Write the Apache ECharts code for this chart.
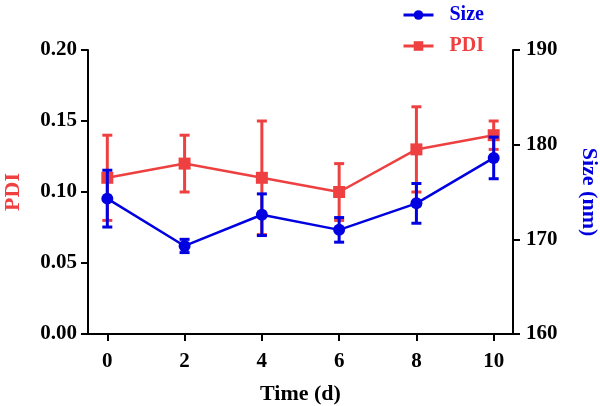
<!DOCTYPE html>
<html>
<head>
<meta charset="utf-8">
<script src="https://cdn.jsdelivr.net/npm/echarts@6/dist/echarts.min.js"></script>
<style>html,body{margin:0;padding:0;background:#fff}#c{width:600px;height:406px}</style>
</head>
<body>
<div id="c"></div>
<script>
const days = [0, 2, 4, 6, 8, 10];
const dayTicks = [0, 2, 4, 6, 8, 10];
const pdi = [0.11, 0.12, 0.11, 0.10, 0.13, 0.14];
const pdiErr = [0.03, 0.02, 0.04, 0.02, 0.03, 0.01];
const size = [174.3, 169.3, 172.6, 171.0, 173.8, 178.6];
const sizeErr = [3.0, 0.7, 2.2, 1.3, 2.1, 2.2];

const RED = '#EE4040';
const BLUE = '#0000E0';
const FONT = 'Liberation Serif';

function errData(vals, errs) {
  return days.map((d, i) => [d, vals[i] - errs[i], vals[i] + errs[i]]);
}
function errRender(color) {
  return function (params, api) {
    const x = api.value(0);
    const lo = api.coord([x, api.value(1)]);
    const hi = api.coord([x, api.value(2)]);
    const hw = 5;
    const st = { stroke: color, lineWidth: 3 };
    return {
      type: 'group',
      children: [
        { type: 'line', shape: { x1: lo[0], y1: lo[1], x2: hi[0], y2: hi[1] }, style: st },
        { type: 'line', shape: { x1: lo[0] - hw, y1: lo[1], x2: lo[0] + hw, y2: lo[1] }, style: st },
        { type: 'line', shape: { x1: hi[0] - hw, y1: hi[1], x2: hi[0] + hw, y2: hi[1] }, style: st }
      ]
    };
  };
}

const axisLineStyle = { color: '#000', width: 2 };
const labelStyle = { color: '#000', fontFamily: FONT, fontWeight: 'bold', fontSize: 21 };

const chart = echarts.init(document.getElementById('c'), null, { renderer: 'canvas' });
chart.setOption({
  animation: false,
  backgroundColor: '#fff',
  grid: { left: 88, right: 87, top: 50, bottom: 72, outerBoundsMode: 'none', containLabel: false },
  legend: {
    orient: 'vertical',
    left: 397,
    top: 0,
    itemWidth: 30,
    itemHeight: 12,
    itemGap: 11,
    lineStyle: { width: 3 },
    textStyle: { fontFamily: FONT, fontWeight: 'bold', fontSize: 20, padding: [0, 0, 0, 11] },
    data: [
      { name: 'Size', textStyle: { color: BLUE } },
      { name: 'PDI', textStyle: { color: RED } }
    ]
  },
  xAxis: {
    type: 'value',
    min: -0.5,
    max: 10.5,
    name: 'Time (d)',
    nameLocation: 'middle',
    nameGap: 49,
    nameTextStyle: { color: '#000', fontFamily: FONT, fontWeight: 'bold', fontSize: 22 },
    axisLine: { show: true, onZero: false, lineStyle: axisLineStyle },
    axisTick: { show: true, length: 7, lineStyle: axisLineStyle, customValues: dayTicks },
    axisLabel: Object.assign({ margin: 17, customValues: dayTicks }, labelStyle),
    splitLine: { show: false }
  },
  yAxis: [
    {
      type: 'value',
      position: 'left',
      min: 0,
      max: 0.2,
      interval: 0.05,
      name: 'PDI',
      nameLocation: 'middle',
      nameGap: 64,
      nameRotate: 90,
      nameTextStyle: { color: RED, fontFamily: FONT, fontWeight: 'bold', fontSize: 22 },
      axisLine: { show: true, onZero: false, lineStyle: axisLineStyle },
      axisTick: { show: true, length: 7, lineStyle: axisLineStyle },
      axisLabel: Object.assign({ margin: 11, formatter: v => v.toFixed(2) }, labelStyle),
      splitLine: { show: false }
    },
    {
      type: 'value',
      position: 'right',
      min: 160,
      max: 190,
      interval: 10,
      name: 'Size (nm)',
      nameLocation: 'middle',
      nameGap: 65,
      nameRotate: -90,
      nameTextStyle: { color: BLUE, fontFamily: FONT, fontWeight: 'bold', fontSize: 22 },
      axisLine: { show: true, onZero: false, lineStyle: axisLineStyle },
      axisTick: { show: true, length: 7, lineStyle: axisLineStyle },
      axisLabel: Object.assign({ margin: 13 }, labelStyle),
      splitLine: { show: false }
    }
  ],
  series: [
    {
      name: 'PDI',
      type: 'line',
      yAxisIndex: 0,
      data: days.map((d, i) => [d, pdi[i]]),
      symbol: 'rect',
      symbolSize: 12,
      color: RED,
      lineStyle: { color: RED, width: 2.5 },
      itemStyle: { color: RED },
      z: 2
    },
    {
      name: 'PDI err',
      type: 'custom',
      yAxisIndex: 0,
      data: errData(pdi, pdiErr),
      encode: { x: 0, y: [1, 2] },
      renderItem: errRender(RED),
      z: 2
    },
    {
      name: 'Size',
      type: 'line',
      yAxisIndex: 1,
      data: days.map((d, i) => [d, size[i]]),
      symbol: 'circle',
      symbolSize: 12,
      color: BLUE,
      lineStyle: { color: BLUE, width: 2.5 },
      itemStyle: { color: BLUE },
      z: 4
    },
    {
      name: 'Size err',
      type: 'custom',
      yAxisIndex: 1,
      data: errData(size, sizeErr),
      encode: { x: 0, y: [1, 2] },
      renderItem: errRender(BLUE),
      z: 4
    }
  ]
});
</script>
</body>
</html>
